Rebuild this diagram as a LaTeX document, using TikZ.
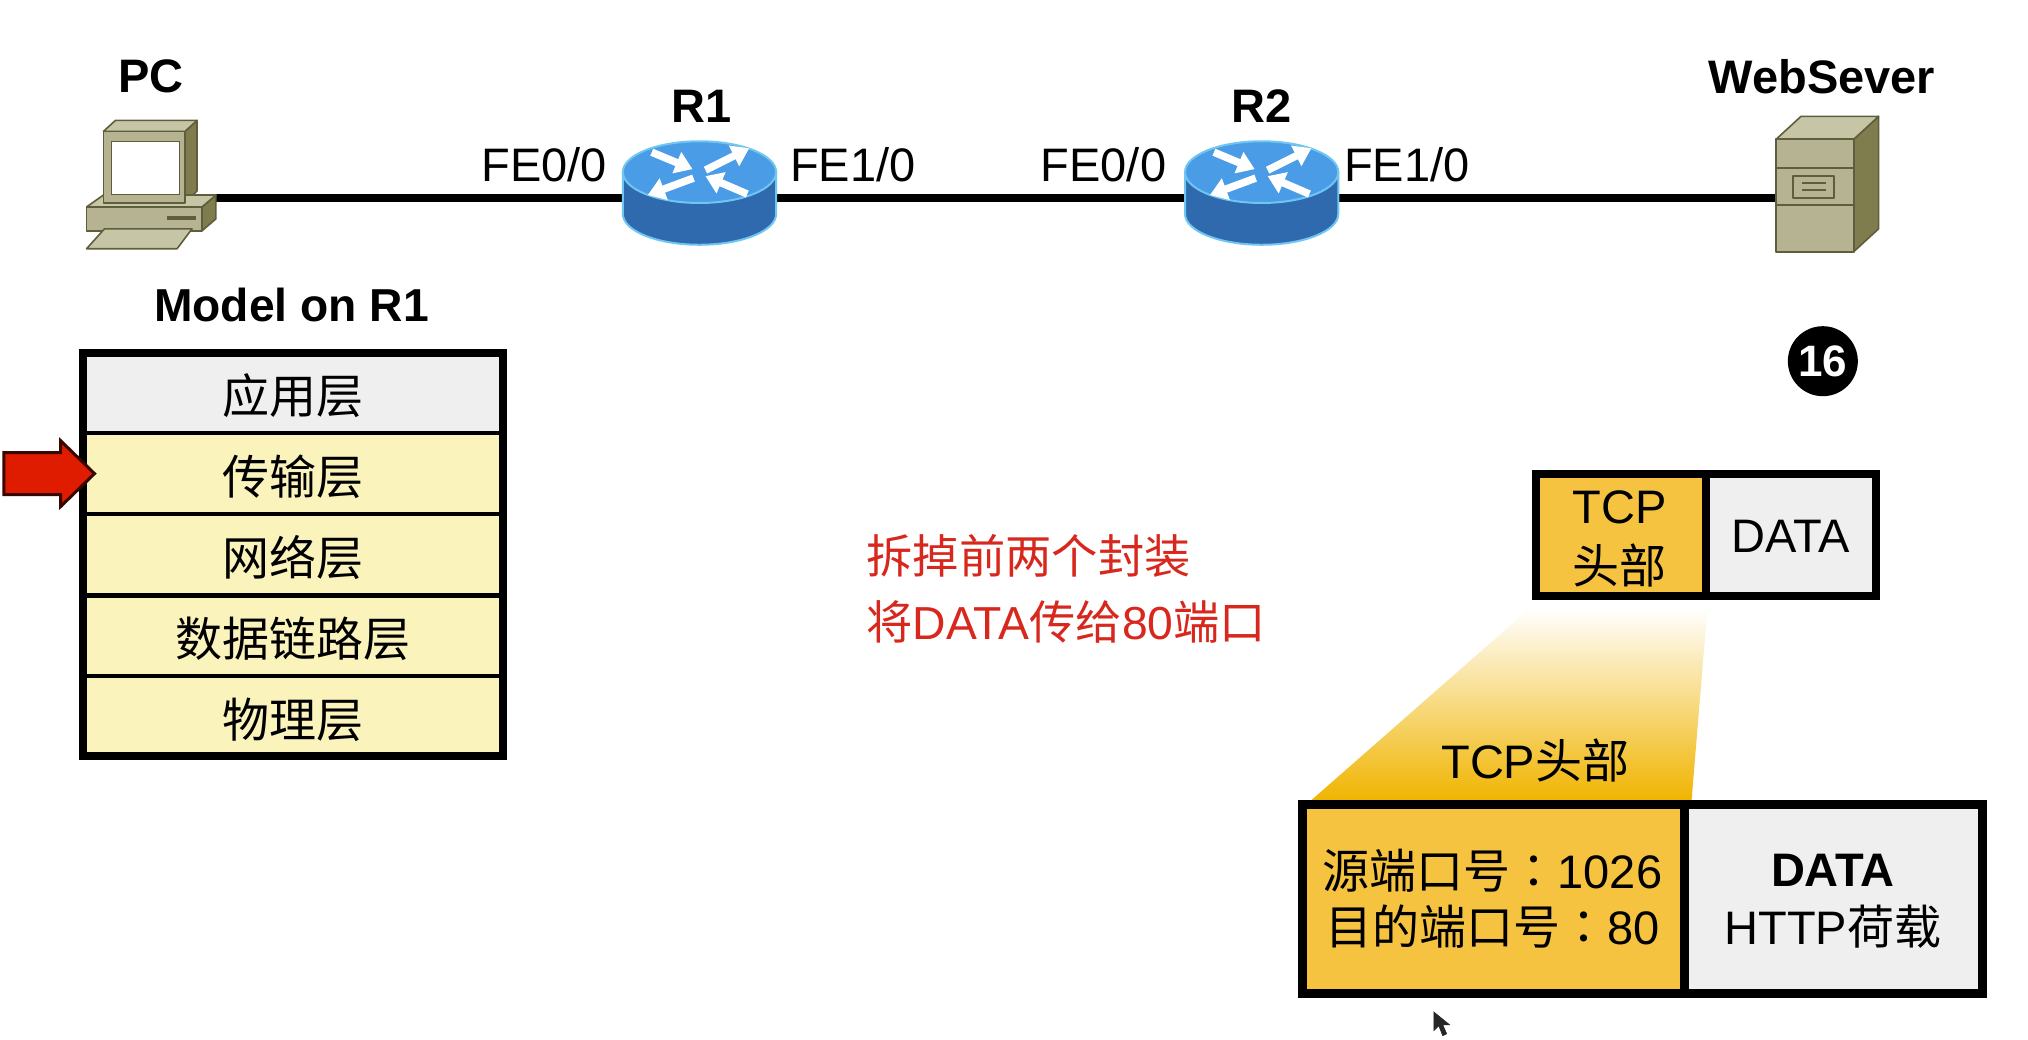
\documentclass[tikz,border=0pt]{standalone}
\usepackage{fontspec}
\setmainfont{Liberation Sans}
\newfontfamily\cjk{Noto Sans CJK SC}
\newfontfamily\cjkjp{Noto Sans CJK JP}
\newcommand{\zh}[1]{{\cjk #1}}
\newcommand{\cln}{{\cjkjp ：}}
\newcommand{\rowstrut}{\rule{0pt}{46pt}}
\usetikzlibrary{arrows.meta}
\definecolor{tanfront}{HTML}{B5B392}
\definecolor{tantop}{HTML}{C6C5A6}
\definecolor{tanside}{HTML}{7F7D4E}
\definecolor{tanline}{HTML}{5F5E3C}
\definecolor{rtop}{HTML}{4A9CE6}
\definecolor{rside}{HTML}{2F69AE}
\definecolor{rglow}{HTML}{6FC6F2}
\definecolor{rowyellow}{HTML}{FBF3BC}
\definecolor{rowgrey}{HTML}{EFEFEF}
\definecolor{hdr}{HTML}{F5C33F}
\definecolor{hdrdeep}{HTML}{F0B400}
\definecolor{redtxt}{HTML}{D8281E}
\definecolor{arrowred}{HTML}{E01C00}
\tikzset{
  x=0.995pt,y=-0.995pt,
  txt/.style={font=\fontsize{47}{54}\selectfont,inner sep=0pt,outer sep=0pt,text=black},
  boldtxt/.style={txt,font=\fontsize{47}{54}\selectfont\bfseries},
  hidden/.style={inner sep=0pt,outer sep=0pt,minimum height=20pt},
  link/.style={line width=8pt,black},
  rowbox/.style={draw=black,line width=4.5pt,minimum width=420pt,minimum height=81pt,inner sep=0pt,outer sep=0pt,txt},
  tan/.style={draw=tanline,line width=1.6pt,line join=round},
  rarrow/.style={draw=white,line width=7.5pt,-{Triangle[width=22pt,length=17pt]}},
}
\newcommand{\router}[2]{%
  \begin{scope}[shift={(#1,#2)}]
    \fill[rside,draw=rglow,line width=2pt] (-77,-26) -- (-77,16) arc[start angle=180,end angle=0,x radius=77,y radius=31] -- (77,-26) -- cycle;
    \fill[rtop,draw=rglow,line width=2pt] (0,-26) ellipse[x radius=77,y radius=31];
    \draw[rarrow] (-48,-46) -- (-7,-29);
    \draw[rarrow] (6,-28) -- (50,-50);
    \draw[rarrow] (-6,-20) -- (-52,-3);
    \draw[rarrow] (48,-4) -- (6,-22);
  \end{scope}}
\begin{document}
\begin{tikzpicture}
\useasboundingbox (0,0) rectangle (2038.2,1045.2);
\fill[white] (0,0) rectangle (2038.2,1045.2);

% hidden anchors for the links
\node[hidden,minimum width=130pt] (pc) at (150,199) {};
\node[hidden,minimum width=154pt] (r1) at (703,199) {};
\node[hidden,minimum width=154pt] (r2) at (1268,199) {};
\node[hidden,minimum width=80pt] (srv) at (1825,199) {};
\draw[link] (pc) -- (r1);
\draw[link] (r1) -- (r2);
\draw[link] (r2) -- (srv);

% PC
\filldraw[tan,fill=tanside] (186,132) -- (198,121) -- (198,192) -- (186,204) -- cycle;
\filldraw[tan,fill=tantop] (104,132) -- (116,121) -- (198,121) -- (186,132) -- cycle;
\filldraw[tan,fill=tanside] (203,208) -- (217,196) -- (217,220) -- (203,232) -- cycle;
\filldraw[tan,fill=tantop] (87,208) -- (104,196) -- (217,196) -- (203,208) -- cycle;
\filldraw[tan,fill=tanfront] (87,208) rectangle (203,232);
\filldraw[tan,fill=tanfront] (104,132) rectangle (186,204);
\filldraw[draw=tanline,line width=1pt,fill=white] (112,142) rectangle (180,195);
\fill[tanline] (168,217) rectangle (197,221);
\filldraw[tan,fill=tantop] (87,250) -- (178,250) -- (193,230) -- (105,230) -- cycle;

% Routers
\router{703}{199}
\router{1268}{199}

% Server
\filldraw[tan,fill=tanside] (1863,140) -- (1888,117) -- (1888,230) -- (1863,253) -- cycle;
\filldraw[tan,fill=tantop] (1785,140) -- (1810,117) -- (1888,117) -- (1863,140) -- cycle;
\filldraw[tan,fill=tanfront] (1785,140) rectangle (1863,253);
\draw[tan] (1785,169) -- (1863,169) (1785,206) -- (1863,206);
\draw[tan] (1802,177) rectangle (1843,199);
\draw[tan] (1811,184) -- (1835,184) (1811,191) -- (1835,191);

% Labels top
\node[boldtxt] (lpc) at (152,77) {PC};
\node[boldtxt] (lr1) at (705,107) {R1};
\node[boldtxt] (lr2) at (1268,107) {R2};
\node[boldtxt] (lsrv) at (1831,77) {WebSever};
\node[txt] (f1) at (547,166) {FE0/0};
\node[txt] (f2) at (857,166) {FE1/0};
\node[txt] (f3) at (1109,166) {FE0/0};
\node[txt] (f4) at (1414,166) {FE1/0};

% Model
\node[boldtxt,font=\fontsize{46.2}{54}\selectfont\bfseries] (lmodel) at (293,307) {Model on R1};
\node[rowbox,fill=rowgrey] (app) at (294.5,395) {\rowstrut\zh{应用层}};
\node[rowbox,fill=rowyellow] (trans) at (294.5,476) {\rowstrut\zh{传输层}};
\node[rowbox,fill=rowyellow] (net) at (294.5,557.5) {\rowstrut\zh{网络层}};
\node[rowbox,fill=rowyellow] (dl) at (294.5,639) {\rowstrut\zh{数据链路层}};
\node[rowbox,fill=rowyellow] (phy) at (294.5,720) {\rowstrut\zh{物理层}};
\draw[line width=8pt,black] (83.5,355) rectangle (505.5,760);

% Red arrow
\filldraw[fill=arrowred,draw=black!75!arrowred,line width=3pt,line join=miter]
  (4,455) -- (61,455) -- (61,443) -- (95,476) -- (61,509) -- (61,497) -- (4,497) -- cycle;

% Red note
\node[txt,font=\fontsize{46.3}{54}\selectfont,text=redtxt,anchor=west] (note1) at (871,559) {\zh{拆掉前两个封装}};
\node[txt,font=\fontsize{46.3}{54}\selectfont,text=redtxt,anchor=west] (note2) at (871,625) {\zh{将}DATA\zh{传给}80\zh{端口}};

% Badge
\node[circle,fill=black,minimum size=70pt,inner sep=0pt,text=white,font=\fontsize{44}{48}\selectfont\bfseries] (badge) at (1832,363) {16};

% Fan
\shade[bottom color=hdrdeep,top color=white] (1317,805) -- (1538,611) -- (1716,611) -- (1700,805) -- cycle;
\node[txt] (ltcp) at (1543,764) {TCP\zh{头部}};

% Small packet
\fill[hdr] (1544,476) rectangle (1715,599);
\fill[rowgrey] (1715,476) rectangle (1885,599);
\draw[line width=8pt,black] (1544,476) rectangle (1885,599);
\draw[line width=8pt,black] (1715,476) -- (1715,599);
\node[txt] (t1) at (1628,510) {TCP};
\node[txt] (t2) at (1628,568) {\zh{头部}};
\node[txt] (t3) at (1800,539) {DATA};

% Big packet
\fill[hdr] (1309,809) rectangle (1693,998);
\fill[rowgrey] (1693,809) rectangle (1992,998);
\draw[line width=9pt,black] (1309,809) rectangle (1992,998);
\draw[line width=9pt,black] (1693,809) -- (1693,998);
\node[txt] (b1) at (1500,875) {\zh{源端口号}\cln 1026};
\node[txt] (b2) at (1500,931) {\zh{目的端口号}\cln 80};
\node[boldtxt] (b3) at (1842,875) {DATA};
\node[txt] (b4) at (1842,931) {HTTP\zh{荷载}};

% Mouse cursor
\filldraw[fill=black!85,draw=black!85,line width=.5pt] (1441,1017) -- (1441,1036) -- (1446,1031) -- (1450,1041) -- (1454,1039) -- (1450,1030) -- (1457,1030) -- cycle;
\end{tikzpicture}
\end{document}
